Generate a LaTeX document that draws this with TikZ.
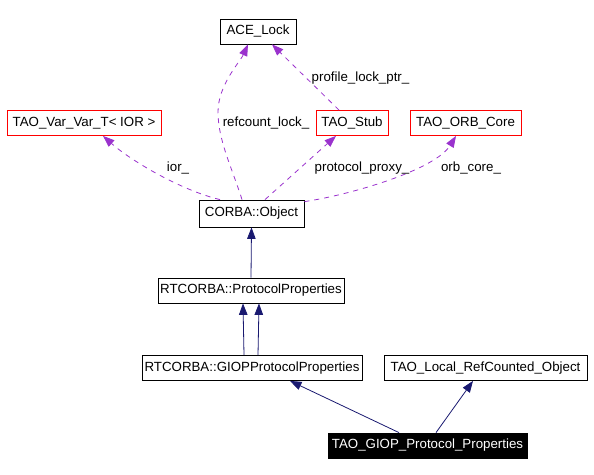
\documentclass[tikz,border=0pt]{standalone}
\usepackage{fontspec}
\setmainfont{Liberation Sans}
\usetikzlibrary{arrows.meta}
\definecolor{memberpurple}{HTML}{9A32CD}
\definecolor{inheritblue}{HTML}{191970}
\tikzset{
  classbox/.style={draw, line width=0.8bp, inner sep=0pt, minimum height=25bp,
    font=\fontsize{13.3bp}{16bp}\selectfont},
  undocbox/.style={classbox, draw=red},
  selfbox/.style={classbox, fill=black, text=white},
  member/.style={memberpurple, line width=0.8bp, dash pattern=on 5bp off 5bp,
    -{Triangle[length=11.5bp,width=8.5bp]}},
  inherit/.style={inheritblue, line width=0.8bp,
    -{Triangle[length=11.5bp,width=8.5bp]}},
  edgelabel/.style={inner sep=0pt, font=\fontsize{13.3bp}{16bp}\selectfont}
}
\begin{document}
\begin{tikzpicture}[x=1bp, y=-1bp]
    \useasboundingbox (0,0) rectangle (594,475);

    \node[classbox, minimum width=76bp]  (ACELock)  at (258,31.5) {ACE\_Lock};
    \node[undocbox, minimum width=154bp] (VarVar)   at (84,123)   {TAO\_Var\_Var\_T< IOR >};
    \node[undocbox, minimum width=72bp]  (Stub)     at (352,123)  {TAO\_Stub};
    \node[undocbox, minimum width=111bp] (ORBCore)  at (465.5,123) {TAO\_ORB\_Core};
    \node[classbox, minimum width=105bp, minimum height=27bp] (CorbaObject) at (251.5,213.5) {CORBA::Object};
    \node[classbox, minimum width=186bp] (ProtocolProps)   at (251,290.5) {RTCORBA::ProtocolProperties};
    \node[classbox, minimum width=220bp] (GIOPProps)       at (252,368)   {RTCORBA::GIOPProtocolProperties};
    \node[classbox, minimum width=203bp] (LocalRefCounted) at (485.5,368) {TAO\_Local\_RefCounted\_Object};
    \node[selfbox, minimum width=199bp]  (GIOPProtocol)    at (427.5,445.5) {TAO\_GIOP\_Protocol\_Properties};

    % members
    \draw[member] ([xshift=-9.5bp]CorbaObject.north) .. controls (232,168) and (218,140) .. (218,112)
        .. controls (218,85) and (240,62) .. ([xshift=-10bp]ACELock.south);% refcount lock
    \draw[member] ([xshift=-13bp]Stub.north) -- ([xshift=14bp]ACELock.south);% lock ptr
    \draw[member] ([xshift=13.5bp]CorbaObject.north) -- ([xshift=-16bp]Stub.south);% proxy
    \draw[member] ([xshift=-31.5bp]CorbaObject.north) .. controls (180,190) and (130,160) .. ([xshift=19bp]VarVar.south);% ior
    \draw[member] ([yshift=-2bp]CorbaObject.north east) .. controls (350,195) and (435,170) .. ([xshift=-9.5bp]ORBCore.south);% orb core

    \node[edgelabel] (RefcountLbl) at (266,123)   {refcount\_lock\_};
    \node[edgelabel] (LockPtrLbl)  at (360.5,78)  {profile\_lock\_ptr\_};
    \node[edgelabel] (IorLbl)      at (178,168)   {ior\_};
    \node[edgelabel] (ProxyLbl)    at (362,168)   {protocol\_proxy\_};
    \node[edgelabel] (OrbCoreLbl)  at (471,168)   {orb\_core\_};

    % inheritance
    \draw[inherit] (ProtocolProps.north) -- (CorbaObject.south);
    \draw[inherit] ([xshift=-8bp]GIOPProps.north) -- ([xshift=-8bp]ProtocolProps.south);
    \draw[inherit] ([xshift=6bp]GIOPProps.north) -- ([xshift=8bp]ProtocolProps.south);
    \draw[inherit] ([xshift=-28.5bp]GIOPProtocol.north) -- ([xshift=38bp]GIOPProps.south);
    \draw[inherit] ([xshift=8.5bp]GIOPProtocol.north) -- ([xshift=-12.5bp]LocalRefCounted.south);

\end{tikzpicture}
\end{document}
